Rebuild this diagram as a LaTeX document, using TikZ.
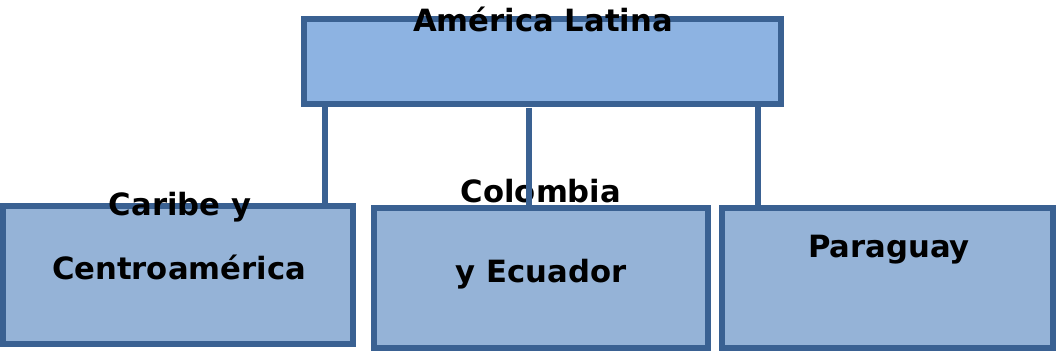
\documentclass[tikz,border=0pt]{standalone}
\usepackage{fontspec}
\setmainfont{DejaVu Sans}
\usepackage{tikz}
\usetikzlibrary{positioning}
\definecolor{boxline}{HTML}{3A6192}
\definecolor{topfill}{HTML}{8DB3E2}
\definecolor{subfill}{HTML}{95B3D7}
\tikzstyle{region} = [rectangle, draw=boxline, line width=4pt, inner sep=0pt]
\tikzstyle{link} = [draw=boxline, line width=4pt]
\tikzset{
  lbl/.style={anchor=base, inner sep=0pt, font=\fontsize{23}{27}\selectfont\bfseries}
}

\begin{document}
\begin{tikzpicture}[x=0.75pt, y=-0.75pt]
    \useasboundingbox (0,0) rectangle (1056,352);
    % nodes
    \node (Latam)    [region, fill=topfill, minimum width=477*0.75pt, minimum height=85*0.75pt] at (542.5,61.5) {};
    \node (Caribe)   [region, fill=subfill, minimum width=350*0.75pt, minimum height=138*0.75pt] at (178,275) {};
    \node (Colombia) [region, fill=subfill, minimum width=334*0.75pt, minimum height=140*0.75pt] at (541,278) {};
    \node (Paraguay) [region, fill=subfill, minimum width=331*0.75pt, minimum height=140*0.75pt] at (887.5,278) {};
    % labels
    \node (LatamTxt)  [lbl] at (543,32)  {América Latina};
    \node (CaribeA)   [lbl] at (180,216) {Caribe y};
    \node (CaribeB)   [lbl] at (179,280) {Centroamérica};
    \node (ColA)      [lbl] at (541,203) {Colombia};
    \node (ColB)      [lbl] at (541,283) {y Ecuador};
    \node (ParTxt)    [lbl] at (889,258) {Paraguay};
    % connectors
    \coordinate (Drop1) at (325,0);
    \coordinate (Drop2) at (529,108);
    \coordinate (Drop3) at (758,0);
    \draw [link] (Latam.south -| Drop1) -- (Caribe.north -| Drop1);
    \draw [link] (Drop2) -- (Colombia.north -| Drop2);
    \draw [link] (Latam.south -| Drop3) -- (Paraguay.north -| Drop3);
\end{tikzpicture}
\end{document}
